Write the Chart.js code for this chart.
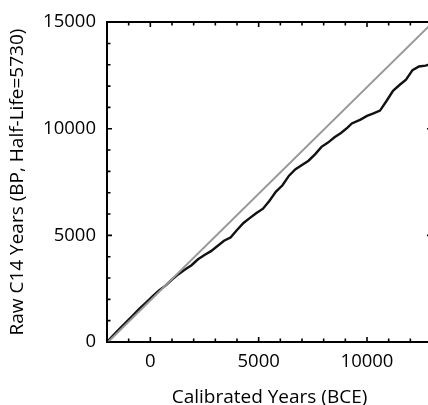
<!DOCTYPE html>
<html><head><meta charset="utf-8">
<script src="https://cdn.jsdelivr.net/npm/chart.js@4/dist/chart.umd.min.js"></script>
<style>html,body{margin:0;padding:0;overflow:hidden;background:#fff}#wrap{width:440px;height:405px}</style>
</head><body><div id="wrap"><canvas id="c" width="440" height="405"></canvas></div>
<script>
const calYears = [-2000,-1700,-1400,-1100,-800,-500,-200,100,400,700,1000,1300,1600,1900,2200,2500,2800,3100,3400,3700,4000,4300,4600,4900,5200,5500,5800,6100,6400,6700,7000,7300,7600,7900,8200,8500,8800,9100,9300,9700,10000,10300,10600,10900,11200,11500,11800,12100,12400,12700,13000];
const c14Years = [0,330,640,950,1250,1560,1850,2140,2420,2640,2930,3180,3400,3600,3880,4080,4260,4500,4750,4900,5250,5580,5820,6050,6250,6620,7050,7350,7800,8100,8300,8500,8800,9150,9350,9600,9800,10050,10250,10430,10600,10720,10850,11300,11780,12050,12300,12750,12920,12960,13050];
const refX = [-1950, 13050];
const refY = [0, 15000];
const xTickLabels = [0, 5000, 10000];
const yTickLabels = [0, 5000, 10000, 15000];
const xTitle = 'Calibrated Years (BCE)';
const yTitle = 'Raw C14 Years (BP, Half-Life=5730)';

const FONT = "'Open Sans', 'DejaVu Sans', sans-serif";

const tickPlugin = {
  id: 'inTicks',
  afterDraw(chart) {
    const {ctx, chartArea: a, scales: {x, y}} = chart;
    ctx.save();
    ctx.strokeStyle = '#000';
    ctx.lineWidth = 2;
    ctx.beginPath();
    ctx.moveTo(a.left, a.top); ctx.lineTo(a.right, a.top); ctx.lineTo(a.right, a.bottom);
    ctx.stroke();
    ctx.lineWidth = 1.6;
    ctx.beginPath();
    for (let v = x.min; v <= x.max; v += 1000) {
      const p = x.getPixelForValue(v);
      const L = v % 5000 === 0 ? 5 : 3.5;
      ctx.moveTo(p, a.bottom); ctx.lineTo(p, a.bottom - L);
      ctx.moveTo(p, a.top); ctx.lineTo(p, a.top + L);
    }
    for (let v = y.min; v <= y.max; v += 1000) {
      const p = y.getPixelForValue(v);
      const L = v % 5000 === 0 ? 5 : 3.5;
      ctx.moveTo(a.left, p); ctx.lineTo(a.left + L, p);
      ctx.moveTo(a.right, p); ctx.lineTo(a.right - L, p);
    }
    ctx.stroke();
    ctx.restore();
  }
};

new Chart(document.getElementById('c'), {
  type: 'scatter',
  data: {
    datasets: [
      { data: refX.map((v,i)=>({x:v,y:refY[i]})), showLine: true, borderColor: '#999999', borderWidth: 2, pointRadius: 0, tension: 0 },
      { data: calYears.map((v,i)=>({x:v,y:c14Years[i]})), showLine: true, borderColor: '#111111', borderWidth: 2.4, pointRadius: 0, tension: 0 }
    ]
  },
  options: {
    responsive: false, animation: false, devicePixelRatio: 1,
    layout: { padding: { top: 18, right: 8, left: 0, bottom: 0 } },
    plugins: { legend: { display: false }, tooltip: { enabled: false } },
    scales: {
      x: {
        type: 'linear', min: -2000, max: 13000,
        afterBuildTicks(s) { s.ticks = xTickLabels.map(v => ({value: v})); },
        afterFit(s) { s.height = 63; },
        grid: { display: false, drawTicks: false },
        border: { display: true, color: '#000', width: 2 },
        ticks: { color: '#000', padding: 9, font: { family: FONT, size: 18.5 }, callback: v => String(v) },
        title: { display: true, text: xTitle, color: '#000', font: { family: FONT, size: 19, lineHeight: 0.8 }, padding: { top: 0, bottom: 0 } }
      },
      y: {
        type: 'linear', min: 0, max: 15000,
        afterBuildTicks(s) { s.ticks = yTickLabels.map(v => ({value: v})); },
        afterFit(s) { s.width = 107; },
        grid: { display: false, drawTicks: false },
        border: { display: true, color: '#000', width: 2 },
        ticks: { color: '#000', padding: 11, font: { family: FONT, size: 18.5 }, callback: v => String(v) },
        title: { display: true, text: yTitle, color: '#000', font: { family: FONT, size: 19, lineHeight: 1 }, padding: { top: 8.5, bottom: 0 } }
      }
    }
  },
  plugins: [tickPlugin]
});
</script></body></html>
